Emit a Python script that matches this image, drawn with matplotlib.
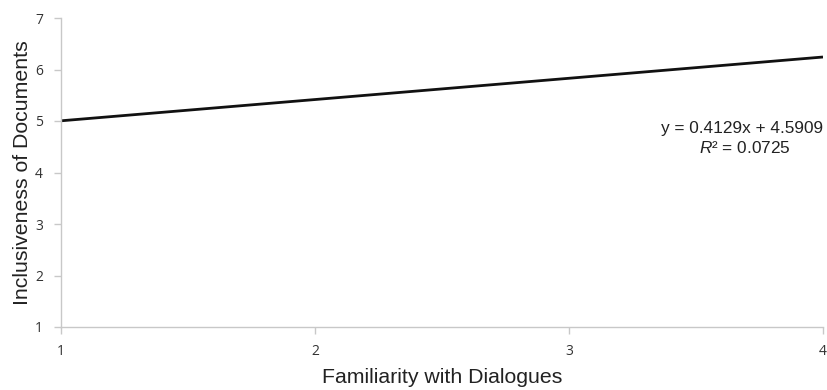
import matplotlib
matplotlib.use("Agg")
import matplotlib.pyplot as plt
import numpy as np

plt.rcParams["mathtext.fontset"] = "custom"
plt.rcParams["mathtext.rm"] = "Liberation Sans"
plt.rcParams["mathtext.it"] = "Liberation Sans:italic"

x_ticks = [1, 2, 3, 4]
y_ticks = [1, 2, 3, 4, 5, 6, 7]
slope = 0.4129
intercept = 4.5909
r2 = 0.0725
line_x = np.array([1, 4])
line_y = slope * line_x + intercept

fig = plt.figure(figsize=(8.28, 3.9), dpi=100)
ax = fig.add_axes([61/828, 1-327/390, (823-61)/828, (327-18)/390])
ax.plot(line_x, line_y, color="#111111", lw=2.0, solid_capstyle="butt")
ax.set_xlim(1, 4)
ax.set_ylim(1, 7)
ax.set_xticks(x_ticks)
ax.set_yticks(y_ticks)
for s in ["top", "right"]:
    ax.spines[s].set_visible(False)
for s in ["left", "bottom"]:
    ax.spines[s].set_color("#c8c8c8")
    ax.spines[s].set_linewidth(1.0)
ax.tick_params(axis="both", colors="#c8c8c8", length=5, width=1, labelcolor="#333333",
               labelsize=10)
ax.tick_params(axis="y", pad=8)
ax.tick_params(axis="x", pad=7)
for lab in ax.get_xticklabels() + ax.get_yticklabels():
    lab.set_family("Open Sans")
ax.set_xlabel("Familiarity with Dialogues", fontsize=15.3, family="Liberation Sans", color="#222222", labelpad=7)
ax.set_ylabel("Inclusiveness of Documents", fontsize=15.3, family="Liberation Sans", color="#222222", labelpad=2)
ax.text(0.894, 0.644, f"y = {slope}x + {intercept}", transform=ax.transAxes, ha="center",
        va="center", fontsize=12.4, family="Liberation Sans", color="#222222")
ax.text(0.898, 0.579, r"$\mathit{R}$" + f"² = {r2}", transform=ax.transAxes, ha="center",
        va="center", fontsize=12.4, family="Liberation Sans", color="#222222")
fig.savefig("out.png", dpi=100)
